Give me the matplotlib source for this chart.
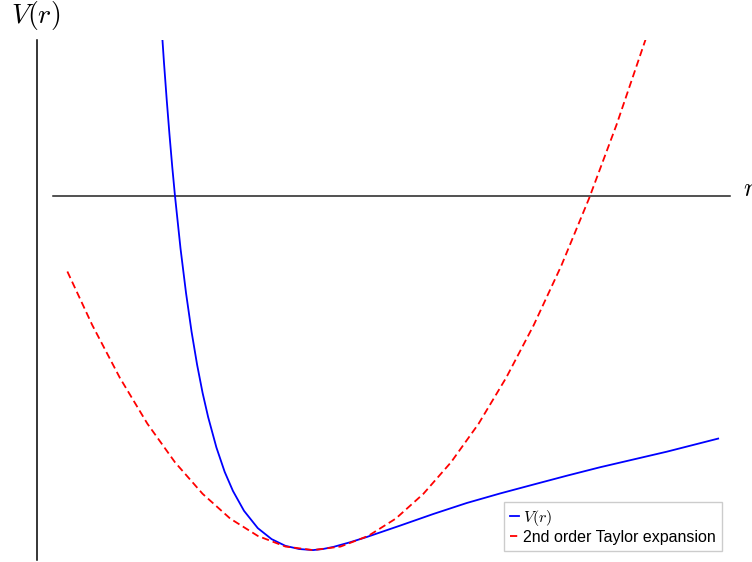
import matplotlib
matplotlib.use("Agg")
import matplotlib.pyplot as plt

# ============================================================================
# 数据 (读自原图, r 以平衡位置为 1, V 以势阱深度为 1)
# ============================================================================

# V(r) 原始势能曲线
r_pot = [0.44, 0.45, 0.46, 0.47, 0.48, 0.49, 0.50, 0.52, 0.54, 0.56,
         0.58, 0.60, 0.62, 0.65, 0.68, 0.71, 0.75, 0.80, 0.85, 0.90,
         0.95, 1.000, 1.036, 1.074, 1.134, 1.195, 1.315, 1.436, 1.557,
         1.678, 1.798, 1.919, 2.040, 2.161, 2.282, 2.468]
v_pot = [0.620, 0.494, 0.378, 0.272, 0.174, 0.083, 0.000, -0.148, -0.274,
         -0.383, -0.476, -0.556, -0.624, -0.710, -0.779, -0.833, -0.889,
         -0.938, -0.969, -0.988, -0.997, -1.000, -0.997, -0.991, -0.978,
         -0.963, -0.931, -0.898, -0.867, -0.840, -0.815, -0.790, -0.766,
         -0.744, -0.722, -0.685]

# 二阶 Taylor 展开 (抛物线)
r_taylor = [0.11, 0.2, 0.3, 0.4, 0.5, 0.6, 0.7, 0.8, 0.9, 1.0, 1.1, 1.2,
            1.3, 1.4, 1.5, 1.6, 1.7, 1.8, 1.9, 2.0, 2.1, 2.21]
v_taylor = [-0.213, -0.364, -0.513, -0.643, -0.752, -0.841, -0.911, -0.960,
            -0.990, -1.000, -0.990, -0.960, -0.911, -0.841, -0.752, -0.643,
            -0.513, -0.364, -0.196, -0.007, 0.202, 0.454]

# r 轴 (V = 0 的水平线)
zero_line_r = [0.058, 2.511]
zero_line_v = [0.0, 0.0]

# ============================================================================
# 绘图
# ============================================================================

plt.rcParams["mathtext.fontset"] = "cm"
plt.rcParams["font.family"] = ["Liberation Sans", "DejaVu Sans"]

fig = plt.figure(figsize=(7.52, 5.62), dpi=100)
ax = fig.add_axes([37 / 752, 2 / 562, 715 / 752, 520 / 562])

ax.plot(zero_line_r, zero_line_v, color="#222222", lw=1.1)
ax.plot(r_pot, v_pot, color="blue", lw=1.3, label=r"$V(r)$")
ax.plot(r_taylor, v_taylor, color="red", lw=1.3, ls="--",
        dashes=(4, 2.2), label="2nd order Taylor expansion")

ax.set_xlim(0, 2.5906)
ax.set_ylim(-1.028, 0.441)

# 只保留左轴线, 去掉刻度
for side in ("top", "right", "bottom"):
    ax.spines[side].set_visible(False)
ax.spines["left"].set_color("black")
ax.spines["left"].set_linewidth(1.1)
ax.set_xticks([])
ax.set_yticks([])

# 轴标签
fig.text(36 / 752, 1 - 15 / 562, r"$V(r)$", ha="center", va="center",
         fontsize=20)
ax.text(2.558, 0.0, r"$r$", ha="left", va="baseline", fontsize=19,
        clip_on=False)

leg = ax.legend(loc="lower right", bbox_to_anchor=(722 / 752, 1 - 551 / 562),
                bbox_transform=fig.transFigure, borderaxespad=0,
                fontsize=11.5, handlelength=0.55, handletextpad=0.25,
                labelspacing=0.1, borderpad=0.4, fancybox=False,
                framealpha=1)
leg.get_frame().set_edgecolor("#cccccc")
leg.get_frame().set_linewidth(1.0)

plt.savefig("out.png", dpi=100)
